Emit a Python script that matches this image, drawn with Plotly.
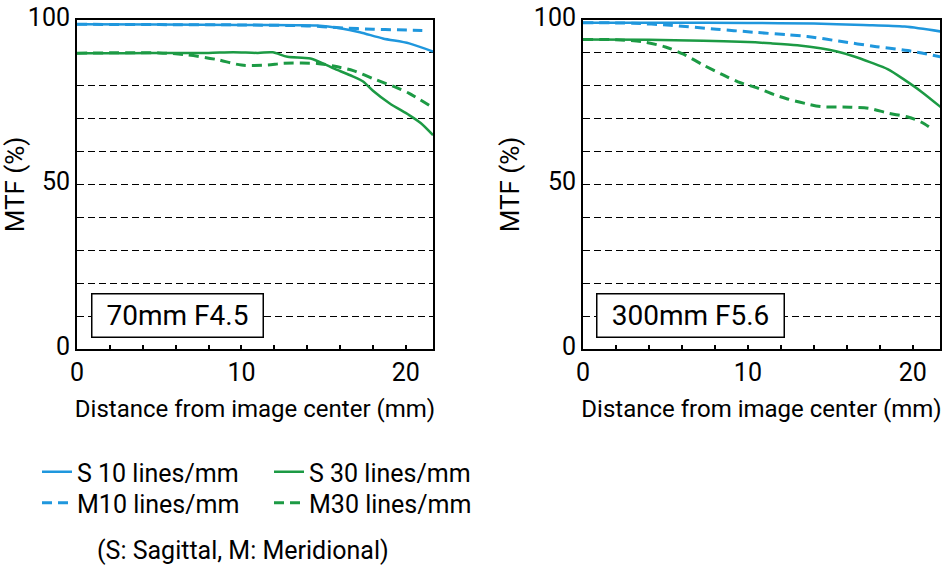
import plotly.graph_objects as go

FONT = "Roboto, 'Liberation Sans', Arial, sans-serif"
BLUE = "#1f97dd"
GREEN = "#1c9a44"

# ---------------- data ----------------
x_tick_vals = [0, 10, 20]
y_tick_vals = [0, 50, 100]
y_tick_text = ["0", "50", "100"]

panel_titles = ["70mm F4.5", "300mm F5.6"]
series_names = ["S 10 lines/mm", "M10 lines/mm", "S 30 lines/mm", "M30 lines/mm"]

# 70mm F4.5
w_s10_x = [0, 5, 10, 14.6, 16.0, 17.2, 18.6, 20.2, 21.65]
w_s10_y = [98.7, 98.6, 98.5, 98.3, 97.5, 96.3, 94.4, 92.9, 90.4]
w_m10_x = [0, 5, 10, 14.0, 16.2, 18.0, 19.5, 21.0]
w_m10_y = [98.7, 98.6, 98.5, 98.2, 97.6, 97.2, 97.0, 96.8]
w_s30_x = [0, 3, 6, 8, 9.5, 11, 11.9, 12.8, 14.2, 15.6, 16.8, 17.4, 18.0, 19.0, 20.2, 20.9, 21.65]
w_s30_y = [89.9, 89.9, 90.0, 90.0, 90.2, 90.0, 90.2, 88.8, 88.3, 85.3, 82.8, 81.3, 78.5, 74.7, 71.1, 68.7, 65.0]
w_m30_x = [0, 5, 6.7, 8.5, 10.0, 11.6, 12.5, 14.6, 15.6, 16.8, 18.2, 19.4, 20.2, 21.6]
w_m30_y = [89.9, 90.0, 89.4, 88.0, 86.3, 86.3, 86.8, 86.8, 86.0, 84.6, 81.8, 79.5, 77.7, 73.5]

# 300mm F5.6
t_s10_x = [0, 5, 10, 14, 17, 19.5, 21.7]
t_s10_y = [99.2, 99.2, 99.1, 98.9, 98.5, 98.0, 96.5]
t_m10_x = [0, 3, 5.3, 8.1, 10.3, 12.4, 13.6, 15.5, 17.8, 19.7, 21.7]
t_m10_y = [99.2, 99.0, 98.4, 97.2, 96.3, 95.5, 95.0, 93.6, 91.9, 90.7, 88.8]
t_s30_x = [0, 4, 7.3, 10, 11.4, 13, 14.4, 15.4, 16.4, 17.4, 18.5, 19.5, 20.5, 21.7]
t_s30_y = [94.1, 94.0, 93.7, 93.3, 92.9, 92.3, 91.4, 90.4, 89.0, 87.2, 85.0, 81.8, 78.3, 73.5]
t_m30_x = [0, 2, 3.6, 5.0, 6.1, 7.3, 8.5, 9.4, 10.6, 11.6, 12.4, 13.5, 14.4, 16.2, 17.3, 18.5, 19.7, 20.5, 21.1]
t_m30_y = [94.1, 94.0, 93.4, 91.8, 89.6, 86.3, 83.3, 81.2, 79.3, 77.3, 76.0, 74.6, 73.7, 73.5, 73.2, 71.7, 70.5, 69.0, 67.1]

panels = [
    [(w_s10_x, w_s10_y), (w_m10_x, w_m10_y), (w_s30_x, w_s30_y), (w_m30_x, w_m30_y)],
    [(t_s10_x, t_s10_y), (t_m10_x, t_m10_y), (t_s30_x, t_s30_y), (t_m30_x, t_m30_y)],
]
styles = [
    dict(color=BLUE, width=2.5, dash="solid"),
    dict(color=BLUE, width=3, dash="10px,6px"),
    dict(color=GREEN, width=2.5, dash="solid"),
    dict(color=GREEN, width=3, dash="10px,6px"),
]
# row 1 of the legend: sagittal, row 2: meridional
legend_ids = ["legend", "legend2", "legend", "legend2"]
draw_order = [1, 3, 0, 2]

W, H = 944, 571
fig = go.Figure()
for p, data in enumerate(panels):
    xa = "x" if p == 0 else "x2"
    ya = "y" if p == 0 else "y2"
    for i in draw_order:
        xs, ys = data[i]
        fig.add_trace(go.Scatter(
            x=xs, y=ys, mode="lines", name=series_names[i],
            line=dict(shape="spline", smoothing=0.8, **styles[i]),
            xaxis=xa, yaxis=ya, showlegend=(p == 0), legend=legend_ids[i],
            legendrank=i, hoverinfo="skip",
        ))

def px_x(v):
    return v / W

def px_y(v):
    return 1 - v / H

xaxis_common = dict(
    range=[0, 21.65], tickvals=x_tick_vals, ticks="inside", ticklen=4, tickwidth=1.5,
    tickcolor="black", showline=True, mirror=True, linecolor="black", linewidth=2,
    showgrid=False, zeroline=False, automargin=False, ticklabeloverflow="allow",
    minor=dict(dtick=2, tick0=0, ticks="inside", ticklen=4, tickwidth=1.5, tickcolor="black", showgrid=False),
    tickfont=dict(family=FONT, size=25, color="black"),
    title=dict(text="Distance from image center (mm)", font=dict(family=FONT, size=24, color="black"), standoff=14),
    ticklabelstandoff=0, fixedrange=True,
)
yaxis_common = dict(
    range=[0, 100], tickvals=y_tick_vals, ticktext=y_tick_text, ticks="",
    showline=True, mirror=True, linecolor="black", linewidth=2,
    showgrid=True, gridcolor="black", gridwidth=1, griddash="7px,4px", zeroline=False,
    automargin=False, ticklabeloverflow="allow",
    minor=dict(dtick=10, tick0=0, ticks="", showgrid=True, gridcolor="black", gridwidth=1, griddash="7px,4px"),
    tickfont=dict(family=FONT, size=25, color="black"),
    title=dict(text="MTF (%)", font=dict(family=FONT, size=26, color="black"), standoff=7),
    ticklabelstandoff=0, ticklabelshift=-3, fixedrange=True,
)

legend_common = dict(
    xanchor="left", yanchor="middle", orientation="h",
    entrywidth=187, entrywidthmode="pixels",
    font=dict(family=FONT, size=25, color="black"), bgcolor="rgba(0,0,0,0)",
    traceorder="normal",
)

fig.update_layout(
    width=W, height=H,
    margin=dict(l=0, r=0, t=0, b=0, autoexpand=False),
    paper_bgcolor="white", plot_bgcolor="white",
    xaxis=dict(domain=[px_x(77), px_x(433)], anchor="y", **xaxis_common),
    yaxis=dict(domain=[px_y(349), px_y(20)], anchor="x", **yaxis_common),
    xaxis2=dict(domain=[px_x(583), px_x(940)], anchor="y2", **xaxis_common),
    yaxis2=dict(domain=[px_y(349), px_y(20)], anchor="x2", **yaxis_common),
    legend=dict(x=px_x(37), y=px_y(472), **legend_common),
    legend2=dict(x=px_x(37), y=px_y(503), **legend_common),
    showlegend=True,
)

box_pos = [(6.14, 10.3, 166, "x", "y"), (6.5, 10.3, 182, "x2", "y2")]
for (bx, by, bw, xr, yr), label in zip(box_pos, panel_titles):
    fig.add_annotation(
        x=bx, y=by, xref=xr, yref=yr, text=label, showarrow=False,
        font=dict(family=FONT, size=28, color="black"),
        bordercolor="black", borderwidth=1.5, bgcolor="white",
        width=bw, height=38, borderpad=2, align="center",
    )

fig.add_annotation(
    x=px_x(243), y=px_y(550), xref="paper", yref="paper",
    text="(S: Sagittal, M: Meridional)", showarrow=False,
    font=dict(family=FONT, size=25, color="black"), xanchor="center", yanchor="middle",
)

# remove the default page margin so the 944x571 figure fills the window exactly
fig.write_html(
    "out.html",
    config={"displayModeBar": False},
    post_script="document.body.style.margin='0';document.body.style.overflow='hidden';",
)
